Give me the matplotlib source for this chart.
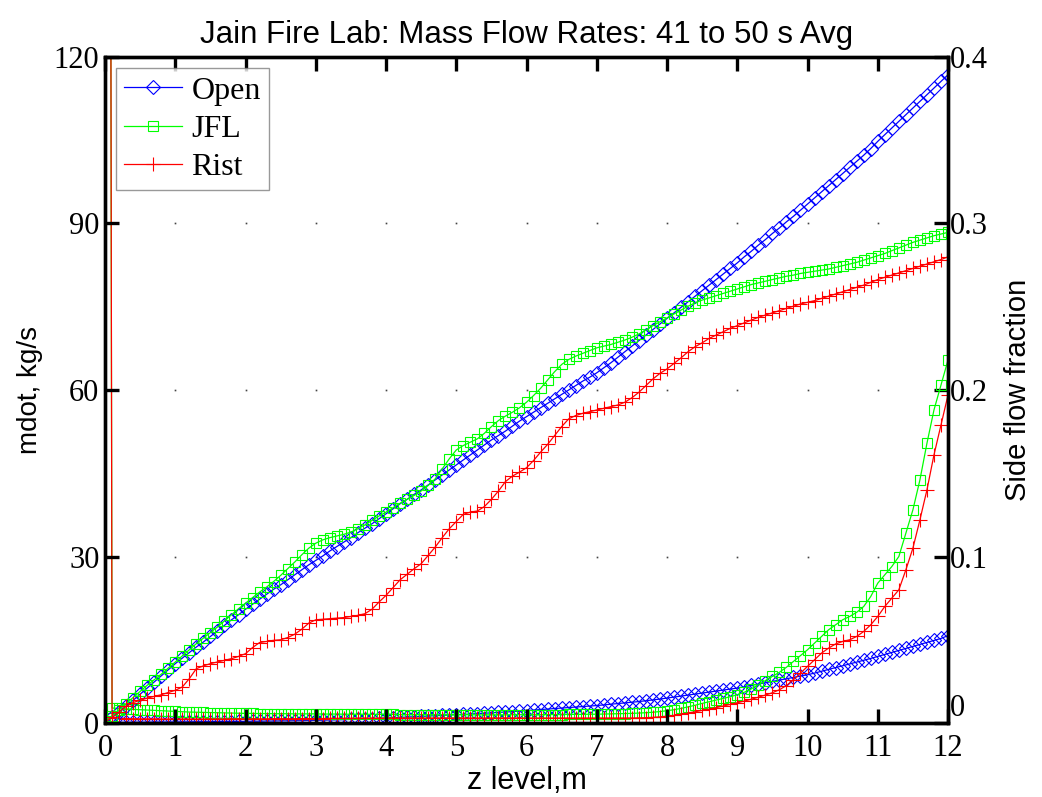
#!/usr/bin/env python3
"""Mass flow rates (left axis) and side flow fraction (right axis) vs z level."""

import numpy as np
import matplotlib
matplotlib.use("Agg")
import matplotlib.pyplot as plt

# z levels, one every 0.1 m from 0 to 12 m
z = np.round(np.arange(0, 121) * 0.1, 1)

# mass flow rate, kg/s
open_mdot = [
    0.0, 1.0, 2.0, 3.1, 4.1, 5.2, 6.3, 7.4, 8.5, 9.6, 10.7,
    11.7, 12.7, 13.7, 14.6, 15.6, 16.6, 17.6, 18.6, 19.5, 20.5,
    21.4, 22.3, 23.2, 24.1, 24.9, 25.8, 26.7, 27.6, 28.5, 29.3,
    30.1, 31.0, 31.8, 32.6, 33.4, 34.3, 35.1, 35.9, 36.8, 37.7,
    38.6, 39.5, 40.3, 41.2, 42.0, 42.9, 43.8, 44.7, 45.6, 46.5,
    47.4, 48.3, 49.2, 50.1, 51.0, 51.8, 52.6, 53.5, 54.4, 55.2,
    56.0, 56.8, 57.6, 58.4, 59.2, 60.0, 60.8, 61.6, 62.3, 63.1,
    64.0, 64.9, 65.9, 66.9, 67.9, 68.9, 69.9, 70.9, 71.9, 72.9,
    73.9, 74.9, 75.9, 76.9, 77.9, 78.9, 79.9, 80.9, 81.9, 82.9,
    84.0, 85.0, 86.1, 87.1, 88.2, 89.2, 90.3, 91.3, 92.4, 93.5,
    94.6, 95.7, 96.8, 97.9, 99.0, 100.1, 101.2, 102.3, 103.5, 104.8,
    106.0, 107.2, 108.4, 109.6, 110.8, 112.0, 113.2, 114.4, 115.6, 116.8,
]
jfl_mdot = [
    0.3, 1.3, 2.4, 3.5, 4.6, 5.7, 6.8, 7.8, 8.8, 9.9, 11.0,
    12.1, 13.2, 14.3, 15.3, 16.3, 17.3, 18.4, 19.5, 20.6, 21.6,
    22.6, 23.6, 24.5, 25.5, 26.6, 27.8, 29.0, 30.3, 31.5, 32.4,
    33.0, 33.4, 33.7, 34.0, 34.4, 35.0, 35.7, 36.5, 37.3, 38.0,
    38.8, 39.6, 40.3, 41.0, 41.8, 42.8, 44.0, 45.8, 47.6, 49.2,
    50.0, 50.6, 51.2, 52.2, 53.4, 54.5, 55.3, 56.0, 56.8, 57.8,
    59.0, 60.3, 61.8, 63.3, 64.6, 65.5, 66.1, 66.6, 67.1, 67.6,
    67.9, 68.2, 68.6, 69.0, 69.5, 70.1, 70.8, 71.6, 72.3, 73.0,
    73.7, 74.4, 75.1, 75.7, 76.2, 76.6, 77.0, 77.4, 77.8, 78.2,
    78.6, 79.0, 79.3, 79.6, 79.9, 80.2, 80.5, 80.7, 81.0, 81.2,
    81.4, 81.6, 81.8, 82.1, 82.4, 82.7, 83.0, 83.4, 83.8, 84.2,
    84.6, 85.1, 85.6, 86.1, 86.6, 87.0, 87.4, 87.8, 88.1, 88.4,
]
rist_mdot = [
    0.2, 1.0, 2.0, 3.0, 3.7, 4.1, 4.5, 4.8, 5.1, 5.5, 5.9,
    6.5, 8.0, 9.8, 10.3, 10.7, 11.0, 11.3, 11.6, 12.0, 12.5,
    13.6, 14.5, 14.7, 14.9, 15.0, 15.4, 16.0, 16.9, 18.0, 18.6,
    18.7, 18.8, 18.9, 19.0, 19.2, 19.4, 19.7, 20.5, 21.8, 23.0,
    24.4, 25.8, 26.8, 27.8, 28.7, 30.2, 31.7, 33.4, 35.0, 36.3,
    37.6, 38.0, 38.2, 39.0, 40.3, 41.8, 43.5, 44.5, 45.2, 46.0,
    47.3, 48.8, 50.2, 51.8, 53.4, 54.8, 55.4, 55.8, 56.1, 56.4,
    56.7, 57.0, 57.3, 57.8, 58.6, 59.6, 60.8, 62.0, 63.0, 63.8,
    64.8, 65.8, 66.9, 67.8, 68.5, 69.3, 69.9, 70.5, 71.1, 71.6,
    72.1, 72.6, 73.1, 73.5, 73.9, 74.3, 74.7, 75.1, 75.5, 75.8,
    76.1, 76.5, 76.9, 77.3, 77.7, 78.1, 78.5, 78.9, 79.4, 79.9,
    80.3, 80.7, 81.1, 81.5, 81.9, 82.3, 82.7, 83.1, 83.5, 84.0,
]

# side flow fraction
open_frac = [
    0.0000, 0.0003, 0.0004, 0.0004, 0.0005, 0.0005, 0.0005, 0.0006, 0.0006, 0.0006, 0.0007,
    0.0007, 0.0007, 0.0008, 0.0008, 0.0008, 0.0009, 0.0009, 0.0009, 0.0010, 0.0010,
    0.0011, 0.0011, 0.0012, 0.0012, 0.0013, 0.0013, 0.0014, 0.0014, 0.0015, 0.0016,
    0.0017, 0.0018, 0.0019, 0.0020, 0.0022, 0.0023, 0.0024, 0.0026, 0.0028, 0.0030,
    0.0032, 0.0034, 0.0036, 0.0038, 0.0040, 0.0042, 0.0044, 0.0046, 0.0048, 0.0050,
    0.0052, 0.0054, 0.0057, 0.0059, 0.0061, 0.0064, 0.0066, 0.0069, 0.0072, 0.0075,
    0.0078, 0.0081, 0.0084, 0.0087, 0.0090, 0.0093, 0.0096, 0.0099, 0.0102, 0.0105,
    0.0109, 0.0113, 0.0117, 0.0121, 0.0125, 0.0129, 0.0134, 0.0139, 0.0144, 0.0150,
    0.0156, 0.0162, 0.0168, 0.0174, 0.0180, 0.0186, 0.0192, 0.0198, 0.0204, 0.0210,
    0.0218, 0.0226, 0.0234, 0.0242, 0.0250, 0.0258, 0.0266, 0.0274, 0.0282, 0.0290,
    0.0300, 0.0311, 0.0322, 0.0333, 0.0344, 0.0355, 0.0366, 0.0377, 0.0388, 0.0400,
    0.0412, 0.0424, 0.0436, 0.0448, 0.0460, 0.0472, 0.0484, 0.0496, 0.0508, 0.0525,
]
jfl_frac = [
    2.4000, 0.0090, 0.0088, 0.0085, 0.0082, 0.0080, 0.0078, 0.0076, 0.0074, 0.0072, 0.0070,
    0.0068, 0.0066, 0.0065, 0.0064, 0.0063, 0.0062, 0.0061, 0.0060, 0.0059, 0.0058,
    0.0058, 0.0057, 0.0057, 0.0056, 0.0056, 0.0056, 0.0055, 0.0055, 0.0055, 0.0055,
    0.0054, 0.0054, 0.0054, 0.0053, 0.0053, 0.0053, 0.0053, 0.0052, 0.0052, 0.0052,
    0.0052, 0.0051, 0.0051, 0.0051, 0.0051, 0.0050, 0.0050, 0.0050, 0.0050, 0.0050,
    0.0050, 0.0050, 0.0049, 0.0049, 0.0049, 0.0049, 0.0049, 0.0050, 0.0050, 0.0050,
    0.0050, 0.0050, 0.0051, 0.0051, 0.0051, 0.0052, 0.0052, 0.0052, 0.0053, 0.0053,
    0.0054, 0.0055, 0.0056, 0.0057, 0.0058, 0.0060, 0.0062, 0.0065, 0.0069, 0.0074,
    0.0080, 0.0088, 0.0097, 0.0107, 0.0118, 0.0128, 0.0138, 0.0148, 0.0158, 0.0170,
    0.0185, 0.0205, 0.0230, 0.0255, 0.0280, 0.0305, 0.0335, 0.0370, 0.0405, 0.0440,
    0.0480, 0.0520, 0.0560, 0.0590, 0.0620, 0.0640, 0.0665, 0.0700, 0.0760, 0.0840,
    0.0890, 0.0940, 0.1000, 0.1140, 0.1280, 0.1460, 0.1680, 0.1880, 0.2030, 0.2180,
]
rist_frac = [
    2.5000, 0.0030, 0.0028, 0.0027, 0.0026, 0.0025, 0.0025, 0.0025, 0.0024, 0.0024, 0.0024,
    0.0024, 0.0024, 0.0024, 0.0024, 0.0024, 0.0024, 0.0024, 0.0025, 0.0025, 0.0025,
    0.0025, 0.0025, 0.0025, 0.0026, 0.0026, 0.0026, 0.0026, 0.0027, 0.0027, 0.0027,
    0.0027, 0.0028, 0.0028, 0.0028, 0.0028, 0.0029, 0.0029, 0.0029, 0.0029, 0.0030,
    0.0030, 0.0030, 0.0030, 0.0030, 0.0030, 0.0030, 0.0030, 0.0030, 0.0030, 0.0030,
    0.0030, 0.0030, 0.0030, 0.0030, 0.0030, 0.0030, 0.0030, 0.0030, 0.0030, 0.0030,
    0.0030, 0.0030, 0.0030, 0.0030, 0.0030, 0.0030, 0.0030, 0.0030, 0.0030, 0.0030,
    0.0030, 0.0030, 0.0030, 0.0030, 0.0030, 0.0031, 0.0032, 0.0034, 0.0037, 0.0041,
    0.0046, 0.0052, 0.0060, 0.0068, 0.0076, 0.0084, 0.0093, 0.0102, 0.0112, 0.0122,
    0.0132, 0.0143, 0.0155, 0.0168, 0.0182, 0.0200, 0.0225, 0.0260, 0.0300, 0.0340,
    0.0380, 0.0420, 0.0450, 0.0475, 0.0490, 0.0500, 0.0520, 0.0550, 0.0590, 0.0640,
    0.0700, 0.0750, 0.0800, 0.0920, 0.1050, 0.1220, 0.1400, 0.1610, 0.1790, 0.1970,
]

labels = ["Open", "JFL", "Rist"]
colors = ["#0000ff", "#00ff00", "#ff0000"]
markers = ["D", "s", "+"]
msizes = [7, 7, 10]

x_ticks = list(range(0, 13))
left_ticks = [0, 30, 60, 90, 120]
right_ticks = [0, 0.1, 0.2, 0.3, 0.4]

SERIF = "Liberation Serif"
SANS = "Liberation Sans"

fig = plt.figure(figsize=(10.42, 7.97), dpi=100)
ax = fig.add_axes([0.1008, 0.0928, 0.8090, 0.8357])
ax2 = ax.twinx()

for y, c, m, ms, lab in zip([open_mdot, jfl_mdot, rist_mdot], colors, markers, msizes, labels):
    ax.plot(z, y, color=c, marker=m, ms=ms, mfc="none", mec=c, mew=0.8,
            lw=0.9, label=lab)
for y, c, m, ms in zip([open_frac, jfl_frac, rist_frac], colors, markers, msizes):
    ax2.plot(z, y, color=c, marker=m, ms=ms, mfc="none", mec=c, mew=0.8,
             lw=0.9)

ax.set_xlim(0, 12)
ax.set_ylim(0, 120)
ax2.set_ylim(0, 0.4)
ax.set_xticks(x_ticks)
ax.set_yticks(left_ticks)
ax2.set_yticks(right_ticks)
ax2.set_yticklabels(["0", "0.1", "0.2", "0.3", "0.4"])

# matlab style grid: only faint dots where grid lines cross
gx, gy = np.meshgrid(x_ticks[1:-1], left_ticks[1:-1])
ax.plot(gx.ravel(), gy.ravel(), ls="none", marker="s", ms=1.2,
        color="#444444", mew=0, zorder=0)

for a in (ax, ax2):
    for s in a.spines.values():
        s.set_linewidth(2.4)
    a.tick_params(direction="in", length=10, width=2.4, labelsize=22)
    for t in a.get_xticklabels() + a.get_yticklabels():
        t.set_fontfamily(SERIF)
ax.tick_params(axis="x", top=True, pad=8)
ax.tick_params(axis="y", right=False, pad=4)
ax2.tick_params(axis="y", pad=1)
# sit the right-axis zero on the axis line so it clears the "12" below it
ax2.get_yticklabels()[0].set_verticalalignment("bottom")

ax.set_title("Jain Fire Lab: Mass Flow Rates: 41 to 50 s Avg",
             fontfamily=SANS, fontsize=22.5, pad=10)
ax.set_xlabel("z level,m", fontfamily=SANS, fontsize=22, labelpad=2)
ax.set_ylabel("mdot, kg/s", fontfamily=SANS, fontsize=20, labelpad=8)
ax2.set_ylabel("Side flow fraction", fontfamily=SANS, fontsize=21, labelpad=12)

leg = ax.legend(loc="upper left", prop={"family": SERIF, "size": 23},
                frameon=True, fancybox=False, handlelength=1.8,
                handletextpad=0.3, borderpad=0.25, labelspacing=0.28,
                borderaxespad=0.35)
leg.get_frame().set_edgecolor("#808080")
leg.get_frame().set_linewidth(1.0)
leg.set_zorder(10)
ax.set_zorder(ax2.get_zorder() + 1)
ax.patch.set_visible(False)

fig.savefig("out.png", dpi=100)
